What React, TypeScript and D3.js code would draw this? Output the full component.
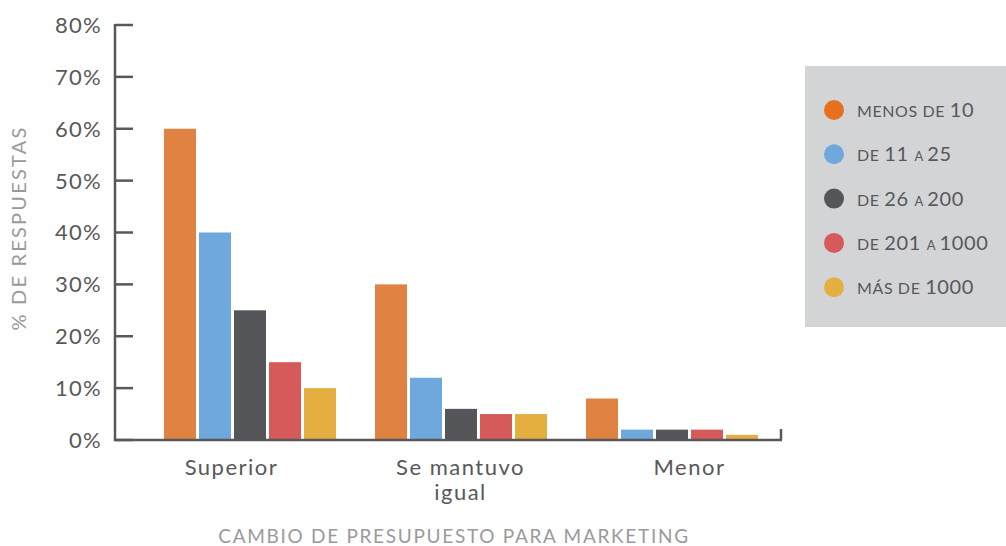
import React from "react";
import * as d3 from "d3";

const categories = ["Superior", "Se mantuvo igual", "Menor"];
const categoryLines = [["Superior"], ["Se mantuvo", "igual"], ["Menor"]];
const seriesNames = ["MENOS DE 10", "DE 11 a 25", "DE 26 a 200", "DE 201 a 1000", "MÁS DE 1000"];
const menosDe10 = [60, 30, 8];
const de11a25 = [40, 12, 2];
const de26a200 = [25, 6, 2];
const de201a1000 = [15, 5, 2];
const masDe1000 = [10, 5, 1];
const seriesValues = [menosDe10, de11a25, de26a200, de201a1000, masDe1000];
const yTicks = [0, 10, 20, 30, 40, 50, 60, 70, 80];
const barColors = ["#E08241", "#6FA8DC", "#555659", "#D65A5A", "#E5AE40"];
const legendColors = ["#E86F1E", "#6FA8DC", "#555659", "#D65A5A", "#E5AE40"];

const FONT = "Lato, 'Open Sans', sans-serif";

// split a legend label into runs: digits (large), uppercase letters (medium), lowercase (small caps)
function runs(label: string) {
  const out: { t: string; k: string }[] = [];
  for (const ch of label) {
    let k = "U";
    if (/[0-9]/.test(ch)) k = "D";
    else if (ch === " ") k = out.length ? out[out.length - 1].k : "U";
    else if (ch !== ch.toUpperCase()) k = "L";
    if (out.length && out[out.length - 1].k === k) out[out.length - 1].t += ch;
    else out.push({ t: ch, k });
  }
  return out;
}

export default function App() {
  const W = 1006, H = 546;
  const x0 = 115, x1 = 781, yBase = 440, yTop = 25;
  const y = d3.scaleLinear().domain([0, 80]).range([yBase, yTop]);
  const gx = d3.scaleBand<string>().domain(categories).range([144.5, 777.5]).paddingInner(39 / 211).paddingOuter(19.5 / 211);
  const bx = d3.scaleBand<string>().domain(seriesNames).range([0, gx.bandwidth()]).paddingInner(3 / 35).paddingOuter(0);
  const lx = d3.scaleBand<string>().domain(categories).range([117, 804]);
  const sizes: Record<string, number> = { D: 20, U: 16, L: 13 };

  return (
    <div style={{ position: "absolute", left: 0, top: 0 }}>
      <svg width={W} height={H} style={{ display: "block", fontFamily: FONT }}>
        <rect x={0} y={0} width={W} height={H} fill="#ffffff" />
        {/* bars */}
        {categories.map((c, ci) => (
          <g key={c} transform={`translate(${gx(c)},0)`}>
            {seriesNames.map((s, si) => {
              const v = seriesValues[si][ci];
              return (
                <rect key={s} x={bx(s)} y={y(v)} width={bx.bandwidth()} height={yBase - y(v)} fill={barColors[si]} />
              );
            })}
          </g>
        ))}
        {/* y axis */}
        <line x1={x0} x2={x0} y1={yTop - 1} y2={yBase + 1} stroke="#58585A" strokeWidth={2.5} />
        {yTicks.map((t) => (
          <g key={t}>
            <line x1={x0} x2={x0 + 18} y1={y(t)} y2={y(t)} stroke="#58585A" strokeWidth={2.5} />
            <text x={102} y={y(t)} dy="0.36em" textAnchor="end" fontSize={22} letterSpacing={1.3} fill="#58585A">
              {t}%
            </text>
          </g>
        ))}
        {/* x axis */}
        <line x1={x0 - 1} x2={x1 + 1} y1={yBase} y2={yBase} stroke="#58585A" strokeWidth={2.5} />
        <line x1={x1} x2={x1} y1={429} y2={yBase} stroke="#58585A" strokeWidth={2.5} />
        {categories.map((c, ci) =>
          categoryLines[ci].map((ln, li) => (
            <text
              key={c + li}
              x={(lx(c) as number) + lx.bandwidth() / 2}
              y={475 + li * 25}
              textAnchor="middle"
              fontSize={22}
              letterSpacing={1.5}
              fill="#58585A"
            >
              {ln}
            </text>
          ))
        )}
        {/* axis titles */}
        <text x={454} y={543} textAnchor="middle" fontSize={19} letterSpacing={1.7} fill="#9A9A9C">
          CAMBIO DE PRESUPUESTO PARA MARKETING
        </text>
        <text transform="translate(26,228) rotate(-90)" textAnchor="middle" fontSize={20} letterSpacing={2.2} fill="#9A9A9C">
          % DE RESPUESTAS
        </text>
        {/* legend */}
        <rect x={805} y={66} width={201} height={261} fill="#D3D4D6" />
        {seriesNames.map((s, si) => {
          const cy = 110 + si * 44.3;
          return (
            <g key={s}>
              <circle cx={834} cy={cy} r={10} fill={legendColors[si]} />
              <text x={857} y={cy + 7} fill="#58585A" letterSpacing={0.6}>
                {runs(s).map((r, ri) => (
                  <tspan key={ri} fontSize={sizes[r.k]}>
                    {r.t.toUpperCase()}
                  </tspan>
                ))}
              </text>
            </g>
          );
        })}
      </svg>
    </div>
  );
}
